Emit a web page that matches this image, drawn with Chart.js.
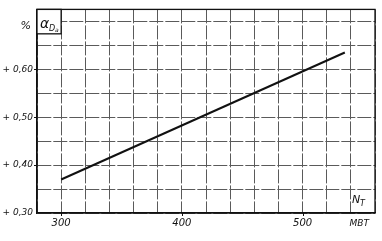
<!DOCTYPE html>
<html>
<head>
<meta charset="utf-8">
<script src="https://cdn.jsdelivr.net/npm/chart.js@4"></script>
<style>
  html, body { margin: 0; padding: 0; background: #fff; }
  #wrap { width: 382px; height: 241px; }
</style>
</head>
<body>
<div id="wrap"><canvas id="chart" width="382" height="241"></canvas></div>
<script>
    // Data
    const powerMW = [300, 535];            // N_T, МВт
    const alphaPct = [0.37, 0.635];        // α_Da, %
    const xTicks = [280, 300, 320, 340, 360, 380, 400, 420, 440, 460, 480, 500, 520, 540, 560];
    const xLabels = { 300: '300', 400: '400', 500: '500' };
    const yTicks = [0.30, 0.35, 0.40, 0.45, 0.50, 0.55, 0.60, 0.65, 0.70];
    const yLabels = { '0.3': '+ 0,30', '0.4': '+ 0,40', '0.5': '+ 0,50', '0.6': '+ 0,60' };

    const fontFam = '"DejaVu Sans", sans-serif';

    // Frame, axis captions, the white box with α and the МВт unit
    const captions = {
        id: 'captions',
        afterDraw(chart) {
            const ctx = chart.ctx;
            const area = chart.chartArea;
            const x = chart.scales.x, y = chart.scales.y;
            ctx.save();
            ctx.strokeStyle = '#111';
            ctx.lineWidth = 1.3;
            ctx.strokeRect(area.left, area.top, area.right - area.left, area.bottom - area.top);

            // short ticks at the labelled values
            ctx.lineWidth = 1;
            ctx.beginPath();
            [0.4, 0.5, 0.6].forEach(v => {
                const py = Math.round(y.getPixelForValue(v)) + 0.5;
                ctx.moveTo(area.left - 3, py); ctx.lineTo(area.left, py);
            });
            [300, 400, 500].forEach(v => {
                const px = Math.round(x.getPixelForValue(v)) + 0.5;
                ctx.moveTo(px, area.bottom); ctx.lineTo(px, area.bottom + 3);
            });
            ctx.stroke();

            // box in the top-left corner
            const bx = area.left, by = area.top;
            const bw = x.getPixelForValue(300) - bx;
            const bh = y.getPixelForValue(0.674) - by;
            ctx.fillStyle = '#fff';
            ctx.fillRect(bx, by, bw, bh);
            ctx.lineWidth = 1.3;
            ctx.strokeRect(bx, by, bw, bh);

            ctx.fillStyle = '#111';
            ctx.textBaseline = 'alphabetic';
            ctx.font = 'italic 14px ' + fontFam;
            ctx.fillText('α', bx + 3, by + 19);
            ctx.font = 'italic 8px ' + fontFam;
            ctx.fillText('D', bx + 12, by + 22);
            ctx.font = 'italic 6px ' + fontFam;
            ctx.fillText('a', bx + 18, by + 23);

            ctx.font = 'italic 11px ' + fontFam;
            ctx.textAlign = 'right';
            ctx.fillText('%', bx - 6, by + 20);

            // N_T inside the last cell
            ctx.textAlign = 'left';
            const nx = x.getPixelForValue(541), ny = y.getPixelForValue(0.32);
            ctx.font = 'italic 11px ' + fontFam;
            ctx.fillText('N', nx, ny);
            ctx.font = 'italic 8px ' + fontFam;
            ctx.fillText('T', nx + 8, ny + 3);

            // unit under the axis
            ctx.font = 'italic 9px ' + fontFam;
            ctx.textAlign = 'center';
            ctx.fillText('МВТ', x.getPixelForValue(547), area.bottom + 13);
            ctx.restore();
        }
    };

    new Chart(document.getElementById('chart'), {
        type: 'line',
        data: {
            datasets: [{
                data: powerMW.map((p, i) => ({ x: p, y: alphaPct[i] })),
                borderColor: '#111',
                borderWidth: 2,
                pointRadius: 0,
                fill: false
            }]
        },
        options: {
            responsive: false,
            animation: false,
            layout: { padding: { left: 0, right: 7, top: 9, bottom: 0 } },
            plugins: { legend: { display: false }, tooltip: { enabled: false } },
            scales: {
                x: {
                    type: 'linear',
                    min: 280,
                    max: 560,
                    afterBuildTicks: s => { s.ticks = xTicks.map(v => ({ value: v })); },
                    afterFit: s => { s.height = 28; },
                    grid: { color: '#5a5a5a', lineWidth: 1, drawTicks: false },
                    border: { color: '#111', width: 1.3, dash: [14, 2] },
                    ticks: {
                        autoSkip: false,
                        maxRotation: 0,
                        padding: 4,
                        color: '#111',
                        font: { family: fontFam, style: 'italic', size: 10 },
                        callback: v => xLabels[v] || ''
                    }
                },
                y: {
                    type: 'linear',
                    min: 0.30,
                    max: 0.725,
                    afterBuildTicks: s => { s.ticks = yTicks.map(v => ({ value: v })); },
                    afterFit: s => { s.width = 37; },
                    grid: { color: '#5a5a5a', lineWidth: 1, drawTicks: false },
                    border: { color: '#111', width: 1.3, dash: [14, 2] },
                    ticks: {
                        autoSkip: false,
                        padding: 4,
                        color: '#111',
                        font: { family: fontFam, style: 'italic', size: 9 },
                        callback: v => yLabels[String(Math.round(v * 100) / 100)] || ''
                    }
                }
            }
        },
        plugins: [captions]
    });
</script>
</body>
</html>
